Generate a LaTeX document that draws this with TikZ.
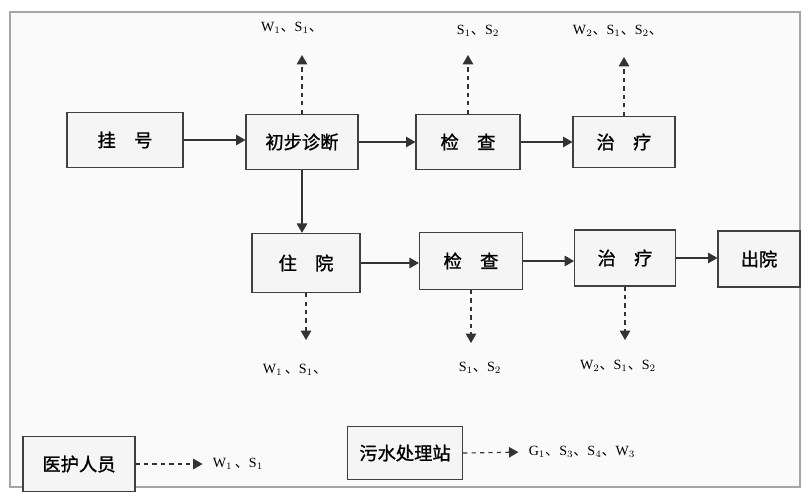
\documentclass[tikz,border=0pt]{standalone}
\usepackage{fontspec}
\setmainfont{Liberation Serif}
\newfontfamily\cjk{Noto Sans CJK SC}
\newfontfamily\cjkbold[FakeBold=1.2]{Noto Sans CJK SC}
\usepackage{tikz}
\usetikzlibrary{arrows}
\tikzset{every scope/.style={>=triangle 60,thick}}
\tikzstyle{stage} =
  [ rectangle
  , draw=black!75
  , fill=black!4
  , thick
  , inner sep=0pt
  , font=\cjkbold\fontsize{13}{15}\selectfont
  ]
\tikzstyle{emission} =
  [ inner sep=1pt
  , font=\fontsize{10}{12}\selectfont
  ]
\tikzstyle{flow}    = [->, black!80]
\tikzstyle{release} = [->, dashed, black!80]
\def\Dun{{\cjk 、}}
\def\Guahao{挂\quad 号}
\def\Chubu{初步诊断}
\def\Jiancha{检\quad 查}
\def\Zhiliao{治\quad 疗}
\def\Zhuyuan{住\quad 院}
\def\Chuyuan{出院}
\def\Yihu{医护人员}
\def\Wushui{污水处理站}

\begin{document}
\begin{tikzpicture}[x=0.025cm,y=-0.025cm]
    \useasboundingbox (0,0) rectangle (809,496);
    \draw[black!35, fill=black!2] (10,12) rectangle (800,487);

    % first row
    \node[stage, minimum width=2.9cm,  minimum height=1.38cm] (register)  at (125,140) {\Guahao};
    \node[stage, minimum width=2.8cm,  minimum height=1.38cm] (diagnosis) at (302,142) {\Chubu};
    \node[stage, minimum width=2.6cm,  minimum height=1.38cm] (exam_out)  at (468,142) {\Jiancha};
    \node[stage, minimum width=2.55cm, minimum height=1.28cm] (treat_out) at (624,142) {\Zhiliao};
    \draw[flow] (register.east)  -- (register.east -| diagnosis.west);
    \draw[flow] (diagnosis.east) -- (diagnosis.east -| exam_out.west);
    \draw[flow] (exam_out.east)  -- (exam_out.east -| treat_out.west);

    % second row
    \node[stage, minimum width=2.7cm,  minimum height=1.48cm] (ward)         at (306,263) {\Zhuyuan};
    \node[stage, minimum width=2.58cm, minimum height=1.42cm] (exam_ward)    at (471,261) {\Jiancha};
    \node[stage, minimum width=2.52cm, minimum height=1.4cm]  (treat_ward)   at (625,258) {\Zhiliao};
    \node[stage, minimum width=2.05cm, minimum height=1.4cm]  (discharge)    at (759,259) {\Chuyuan};
    \draw[flow] (diagnosis.south) -- (diagnosis.south |- ward.north);
    \draw[flow] (ward.east)       -- (ward.east -| exam_ward.west);
    \draw[flow] (exam_ward.east)  -- (exam_ward.east -| treat_ward.west);
    \draw[flow] (treat_ward.east) -- (treat_ward.east -| discharge.west);

    % releases upwards
    \coordinate (diag_top)  at (302,55);
    \coordinate (exam_top)  at (468,55);
    \coordinate (treat_top) at (624,57);
    \draw[release] (diagnosis.north) -- (diag_top);
    \draw[release] (exam_out.north)  -- (exam_top);
    \draw[release] (treat_out.north) -- (treat_top);
    \node[emission] (diag_label)  at (292,28) {W$_1$\Dun S$_1$\Dun};
    \node[emission] (exam_label)  at (478,31) {S$_1$\Dun S$_2$};
    \node[emission] (treat_label) at (618,31) {W$_2$\Dun S$_1$\Dun S$_2$\Dun};

    % releases downwards
    \coordinate (ward_bot)  at (306,340);
    \coordinate (exam_bot)  at (471,343);
    \coordinate (treat_bot) at (625,340);
    \draw[release] (ward.south)       -- (ward_bot);
    \draw[release] (exam_ward.south)  -- (exam_bot);
    \draw[release] (treat_ward.south) -- (treat_bot);
    \node[emission] (ward_label)       at (295,370) {W$_1$\,\Dun S$_1$\Dun};
    \node[emission] (exam_ward_label)  at (480,368) {S$_1$\Dun S$_2$};
    \node[emission] (treat_ward_label) at (618,366) {W$_2$\Dun S$_1$\Dun S$_2$};

    % staff and sewage station
    \node[stage, minimum width=2.8cm,  minimum height=1.38cm] (staff)  at (79,464)  {\Yihu};
    \node[stage, minimum width=2.88cm, minimum height=1.33cm] (sewage) at (405,453) {\Wushui};
    \node[emission] (staff_label)  at (238,464) {W$_1$\,\Dun S$_1$};
    \node[emission] (sewage_label) at (582,452) {G$_1$\Dun S$_3$\Dun S$_4$\Dun W$_3$};
    \draw[release, shorten >=6pt] (staff.east)  -- (staff_label.west);
    \draw[release, shorten >=6pt] (sewage.east) -- (sewage_label.west);
  \end{tikzpicture}
\end{document}
